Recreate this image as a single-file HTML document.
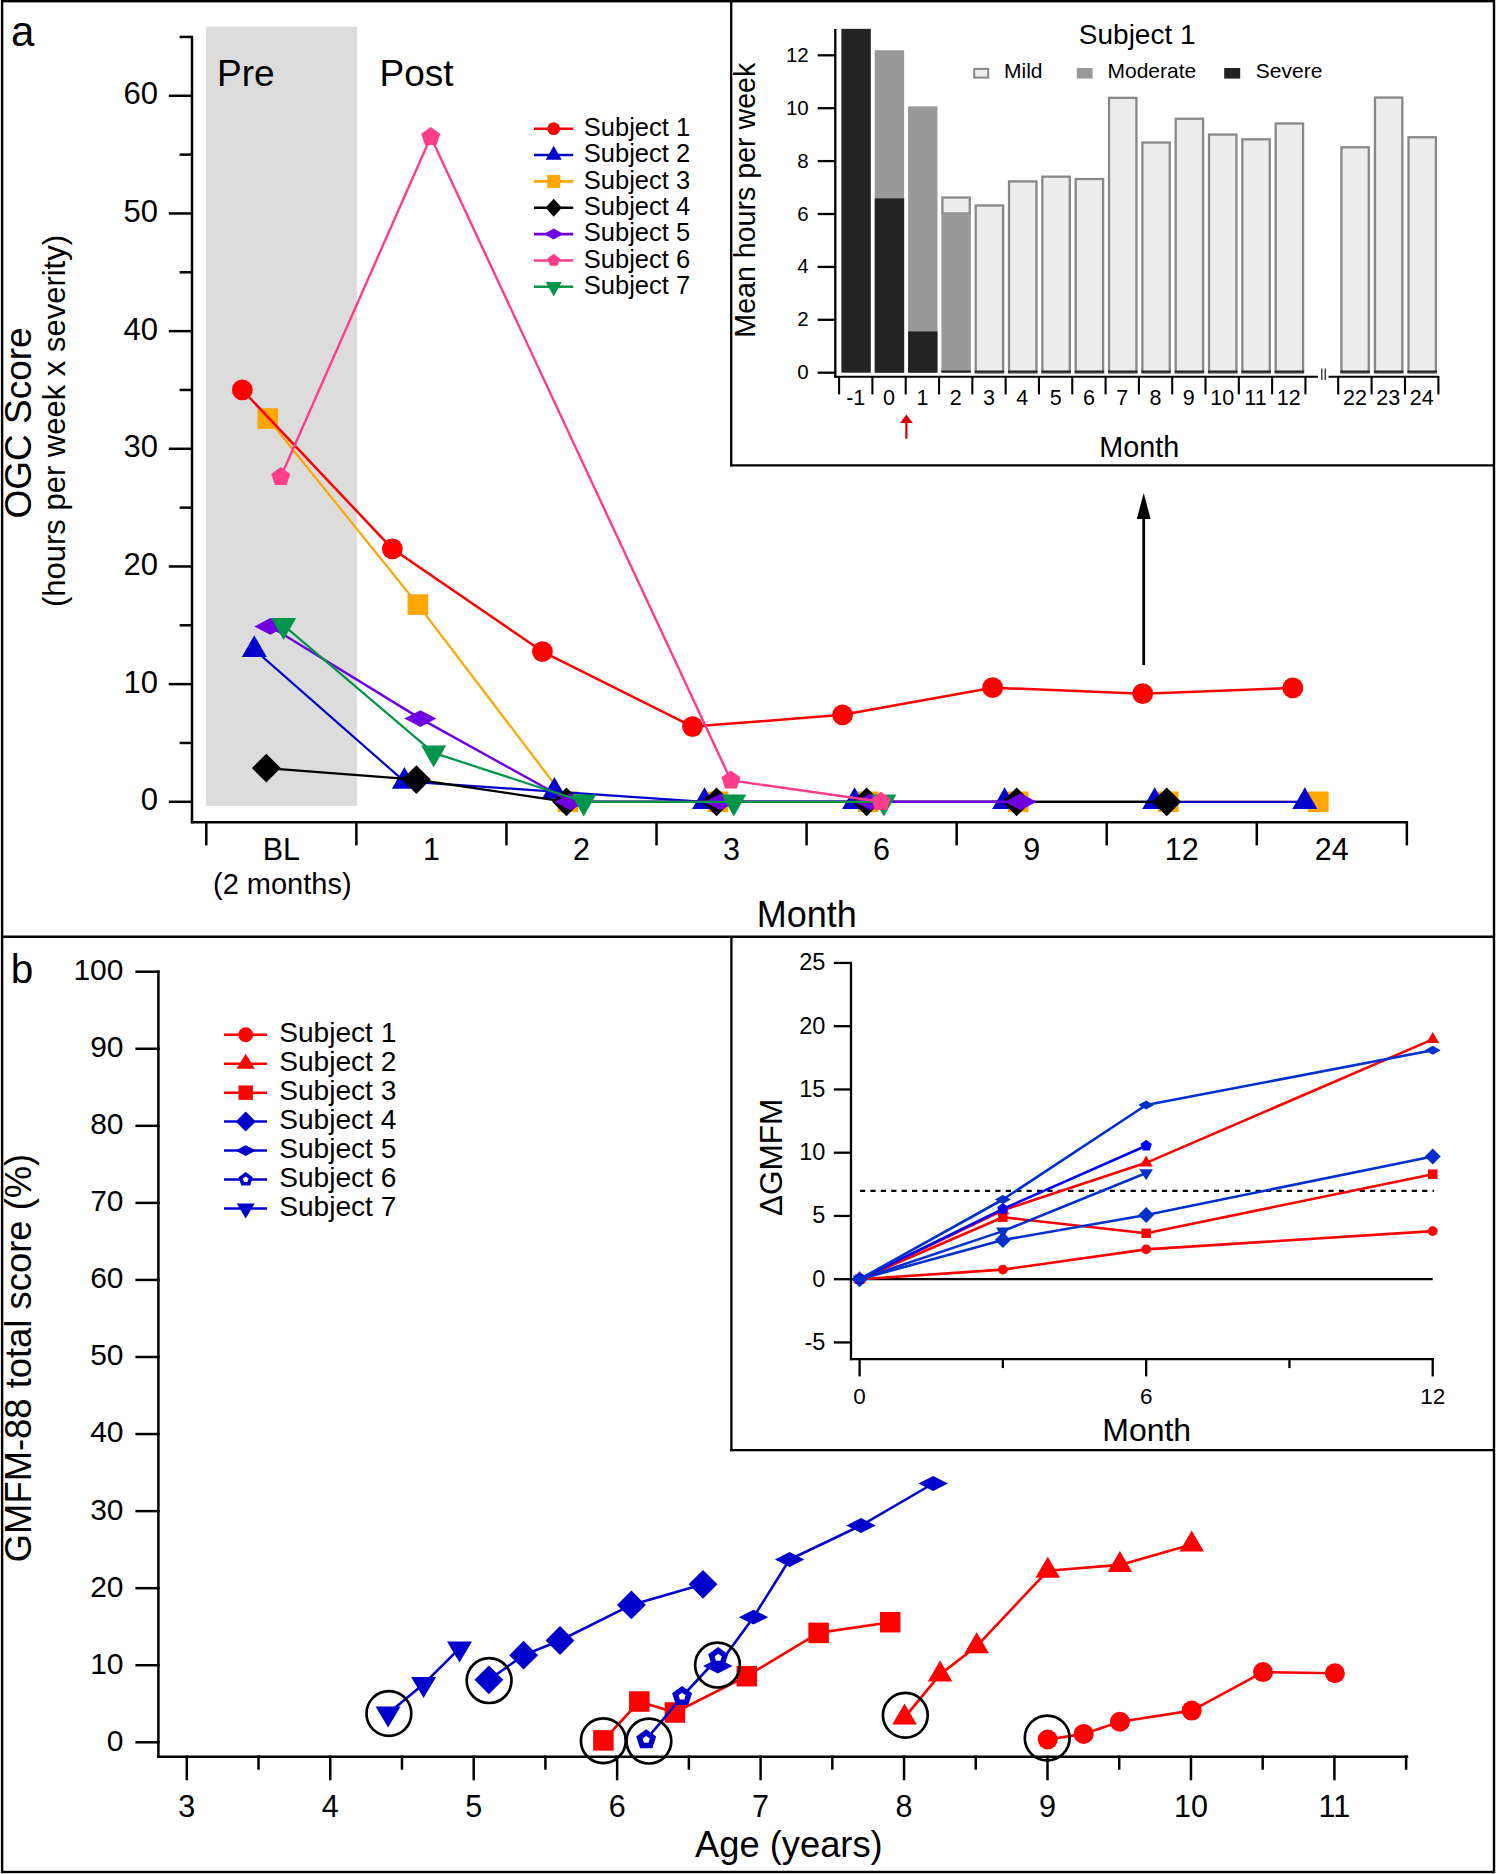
<!DOCTYPE html><html><head><meta charset="utf-8"><style>html,body{margin:0;padding:0;background:#fff;}svg{display:block;}</style></head><body>
<svg width="1496" height="1874" viewBox="0 0 1496 1874" font-family="Liberation Sans">
<rect x="0" y="0" width="1496" height="1874" fill="#fff" />
<rect x="206" y="26.7" width="151" height="779.2" fill="#dcdcdc" />
<line x1="192" y1="36.5" x2="192" y2="823.2" stroke="#000" stroke-width="2.5" />
<line x1="168.8" y1="801.8" x2="193" y2="801.8" stroke="#000" stroke-width="2.5" />
<text x="158" y="810.4" font-size="31" text-anchor="end" fill="#000" >0</text>
<line x1="168.8" y1="684.13" x2="193" y2="684.13" stroke="#000" stroke-width="2.5" />
<text x="158" y="692.73" font-size="31" text-anchor="end" fill="#000" >10</text>
<line x1="168.8" y1="566.46" x2="193" y2="566.46" stroke="#000" stroke-width="2.5" />
<text x="158" y="575.06" font-size="31" text-anchor="end" fill="#000" >20</text>
<line x1="168.8" y1="448.79" x2="193" y2="448.79" stroke="#000" stroke-width="2.5" />
<text x="158" y="457.39" font-size="31" text-anchor="end" fill="#000" >30</text>
<line x1="168.8" y1="331.12" x2="193" y2="331.12" stroke="#000" stroke-width="2.5" />
<text x="158" y="339.72" font-size="31" text-anchor="end" fill="#000" >40</text>
<line x1="168.8" y1="213.45" x2="193" y2="213.45" stroke="#000" stroke-width="2.5" />
<text x="158" y="222.05" font-size="31" text-anchor="end" fill="#000" >50</text>
<line x1="168.8" y1="95.78" x2="193" y2="95.78" stroke="#000" stroke-width="2.5" />
<text x="158" y="104.38" font-size="31" text-anchor="end" fill="#000" >60</text>
<line x1="179.6" y1="742.96" x2="193" y2="742.96" stroke="#000" stroke-width="2.5" />
<line x1="179.6" y1="625.29" x2="193" y2="625.29" stroke="#000" stroke-width="2.5" />
<line x1="179.6" y1="507.62" x2="193" y2="507.62" stroke="#000" stroke-width="2.5" />
<line x1="179.6" y1="389.95" x2="193" y2="389.95" stroke="#000" stroke-width="2.5" />
<line x1="179.6" y1="272.28" x2="193" y2="272.28" stroke="#000" stroke-width="2.5" />
<line x1="179.6" y1="154.62" x2="193" y2="154.62" stroke="#000" stroke-width="2.5" />
<line x1="179.6" y1="36.94" x2="193" y2="36.94" stroke="#000" stroke-width="2.5" />
<line x1="190.8" y1="822.2" x2="1407.5" y2="822.2" stroke="#000" stroke-width="2.5" />
<line x1="206.3" y1="821" x2="206.3" y2="845.4" stroke="#000" stroke-width="2.5" />
<line x1="356.37" y1="821" x2="356.37" y2="845.4" stroke="#000" stroke-width="2.5" />
<line x1="506.44" y1="821" x2="506.44" y2="845.4" stroke="#000" stroke-width="2.5" />
<line x1="656.51" y1="821" x2="656.51" y2="845.4" stroke="#000" stroke-width="2.5" />
<line x1="806.58" y1="821" x2="806.58" y2="845.4" stroke="#000" stroke-width="2.5" />
<line x1="956.65" y1="821" x2="956.65" y2="845.4" stroke="#000" stroke-width="2.5" />
<line x1="1106.72" y1="821" x2="1106.72" y2="845.4" stroke="#000" stroke-width="2.5" />
<line x1="1256.79" y1="821" x2="1256.79" y2="845.4" stroke="#000" stroke-width="2.5" />
<line x1="1406.86" y1="821" x2="1406.86" y2="845.4" stroke="#000" stroke-width="2.5" />
<text x="281.3" y="859.7" font-size="30.5" text-anchor="middle" fill="#000" >BL</text>
<text x="431.37" y="859.7" font-size="30.5" text-anchor="middle" fill="#000" >1</text>
<text x="581.44" y="859.7" font-size="30.5" text-anchor="middle" fill="#000" >2</text>
<text x="731.51" y="859.7" font-size="30.5" text-anchor="middle" fill="#000" >3</text>
<text x="881.58" y="859.7" font-size="30.5" text-anchor="middle" fill="#000" >6</text>
<text x="1031.65" y="859.7" font-size="30.5" text-anchor="middle" fill="#000" >9</text>
<text x="1181.72" y="859.7" font-size="30.5" text-anchor="middle" fill="#000" >12</text>
<text x="1331.79" y="859.7" font-size="30.5" text-anchor="middle" fill="#000" >24</text>
<text x="282.3" y="894" font-size="29" text-anchor="middle" fill="#000" >(2 months)</text>
<text x="806.8" y="926.7" font-size="36" text-anchor="middle" fill="#000" >Month</text>
<text x="11" y="45.5" font-size="42" text-anchor="start" fill="#000" >a</text>
<text x="217" y="86.2" font-size="37" text-anchor="start" fill="#000" >Pre</text>
<text x="379.5" y="86.2" font-size="37" text-anchor="start" fill="#000" >Post</text>
<text transform="translate(31.3,423) rotate(-90)" x="0" y="0" font-size="37" text-anchor="middle" fill="#000">OGC Score</text>
<text transform="translate(64.9,421) rotate(-90)" x="0" y="0" font-size="31" text-anchor="middle" fill="#000">(hours per week x severity)</text>
<polyline points="267.8,418.55 417.87,604.59 567.94,801.8 718.01,801.8 868.08,801.8 1018.15,801.8 1168.22,801.8 1318.29,801.8" fill="none" stroke="#ffa500" stroke-width="2.2" stroke-linejoin="round" />
<rect x="257.5" y="408.25" width="20.6" height="20.6" fill="#ffa500" />
<rect x="407.57" y="594.29" width="20.6" height="20.6" fill="#ffa500" />
<rect x="557.64" y="791.5" width="20.6" height="20.6" fill="#ffa500" />
<rect x="707.71" y="791.5" width="20.6" height="20.6" fill="#ffa500" />
<rect x="857.78" y="791.5" width="20.6" height="20.6" fill="#ffa500" />
<rect x="1007.85" y="791.5" width="20.6" height="20.6" fill="#ffa500" />
<rect x="1157.92" y="791.5" width="20.6" height="20.6" fill="#ffa500" />
<rect x="1307.99" y="791.5" width="20.6" height="20.6" fill="#ffa500" />
<polyline points="254.3,649.65 404.37,781.44 554.44,791.56 704.51,801.8 854.58,801.8 1004.65,801.8 1154.72,801.8 1304.79,801.8" fill="none" stroke="#0000cc" stroke-width="2.2" stroke-linejoin="round" />
<polygon points="254.3,635.19 266.8,656.89 241.8,656.89" fill="#0000cc" />
<polygon points="404.37,766.98 416.87,788.68 391.87,788.68" fill="#0000cc" />
<polygon points="554.44,777.1 566.94,798.8 541.94,798.8" fill="#0000cc" />
<polygon points="704.51,787.33 717.01,809.03 692.01,809.03" fill="#0000cc" />
<polygon points="854.58,787.33 867.08,809.03 842.08,809.03" fill="#0000cc" />
<polygon points="1004.65,787.33 1017.15,809.03 992.15,809.03" fill="#0000cc" />
<polygon points="1154.72,787.33 1167.22,809.03 1142.22,809.03" fill="#0000cc" />
<polygon points="1304.79,787.33 1317.29,809.03 1292.29,809.03" fill="#0000cc" />
<polyline points="266.3,768.03 416.37,779.56 566.44,801.8 716.51,801.8 866.58,801.8 1016.65,801.8 1166.72,801.8" fill="none" stroke="#000000" stroke-width="2.2" stroke-linejoin="round" />
<polygon points="266.3,753.63 280.7,768.03 266.3,782.43 251.9,768.03" fill="#000000" />
<polygon points="416.37,765.16 430.77,779.56 416.37,793.96 401.97,779.56" fill="#000000" />
<polygon points="566.44,787.4 580.84,801.8 566.44,816.2 552.04,801.8" fill="#000000" />
<polygon points="716.51,787.4 730.91,801.8 716.51,816.2 702.11,801.8" fill="#000000" />
<polygon points="866.58,787.4 880.98,801.8 866.58,816.2 852.18,801.8" fill="#000000" />
<polygon points="1016.65,787.4 1031.05,801.8 1016.65,816.2 1002.25,801.8" fill="#000000" />
<polygon points="1166.72,787.4 1181.12,801.8 1166.72,816.2 1152.32,801.8" fill="#000000" />
<polyline points="270.3,626.47 420.37,718.61 570.44,801.8 720.51,801.8 870.58,801.8 1020.65,801.8" fill="none" stroke="#7000e0" stroke-width="2.4" stroke-linejoin="round" />
<polygon points="270.3,618.07 286.3,626.47 270.3,634.87 254.3,626.47" fill="#7000e0" />
<polygon points="420.37,710.21 436.37,718.61 420.37,727.01 404.37,718.61" fill="#7000e0" />
<polygon points="570.44,793.4 586.44,801.8 570.44,810.2 554.44,801.8" fill="#7000e0" />
<polygon points="720.51,793.4 736.51,801.8 720.51,810.2 704.51,801.8" fill="#7000e0" />
<polygon points="870.58,793.4 886.58,801.8 870.58,810.2 854.58,801.8" fill="#7000e0" />
<polygon points="1020.65,793.4 1036.65,801.8 1020.65,810.2 1004.65,801.8" fill="#7000e0" />
<polyline points="283.6,625.29 433.67,752.85 583.74,801.8 733.81,801.8 883.88,801.8" fill="none" stroke="#00954a" stroke-width="2.2" stroke-linejoin="round" />
<polygon points="283.6,639.96 296.1,617.96 271.1,617.96" fill="#00954a" />
<polygon points="433.67,767.52 446.17,745.52 421.17,745.52" fill="#00954a" />
<polygon points="583.74,816.47 596.24,794.47 571.24,794.47" fill="#00954a" />
<polygon points="733.81,816.47 746.31,794.47 721.31,794.47" fill="#00954a" />
<polygon points="883.88,816.47 896.38,794.47 871.38,794.47" fill="#00954a" />
<polyline points="242.3,389.95 392.37,548.81 542.44,651.54 692.51,726.61 842.58,714.84 992.65,687.66 1142.72,693.66 1292.79,687.9" fill="none" stroke="#ff0000" stroke-width="2.5" stroke-linejoin="round" />
<circle cx="242.3" cy="389.95" r="10.4" fill="#ff0000"/>
<circle cx="392.37" cy="548.81" r="10.4" fill="#ff0000"/>
<circle cx="542.44" cy="651.54" r="10.4" fill="#ff0000"/>
<circle cx="692.51" cy="726.61" r="10.4" fill="#ff0000"/>
<circle cx="842.58" cy="714.84" r="10.4" fill="#ff0000"/>
<circle cx="992.65" cy="687.66" r="10.4" fill="#ff0000"/>
<circle cx="1142.72" cy="693.66" r="10.4" fill="#ff0000"/>
<circle cx="1292.79" cy="687.9" r="10.4" fill="#ff0000"/>
<polyline points="280.7,477.03 430.77,136.96 730.91,780.38 880.98,801.8" fill="none" stroke="#ff3d8b" stroke-width="2.4" stroke-linejoin="round" />
<polygon points="280.7,467.03 290.21,473.94 286.58,485.12 274.82,485.12 271.19,473.94" fill="#ff3d8b" />
<polygon points="430.77,126.96 440.28,133.87 436.65,145.05 424.89,145.05 421.26,133.87" fill="#ff3d8b" />
<polygon points="730.91,770.38 740.42,777.29 736.79,788.47 725.03,788.47 721.4,777.29" fill="#ff3d8b" />
<polygon points="880.98,791.8 890.49,798.71 886.86,809.89 875.1,809.89 871.47,798.71" fill="#ff3d8b" />
<line x1="534" y1="128.7" x2="573.2" y2="128.7" stroke="#ff0000" stroke-width="2.6" />
<circle cx="553.7" cy="128.7" r="6.4" fill="#ff0000"/>
<text x="583.8" y="135.8" font-size="25.5" text-anchor="start" fill="#000" >Subject 1</text>
<line x1="534" y1="155.05" x2="573.2" y2="155.05" stroke="#0000cc" stroke-width="2.6" />
<polygon points="553.7,145.72 561.7,159.72 545.7,159.72" fill="#0000cc" />
<text x="583.8" y="162.15" font-size="25.5" text-anchor="start" fill="#000" >Subject 2</text>
<line x1="534" y1="181.4" x2="573.2" y2="181.4" stroke="#ffa500" stroke-width="2.6" />
<rect x="547.2" y="174.9" width="13" height="13" fill="#ffa500" />
<text x="583.8" y="188.5" font-size="25.5" text-anchor="start" fill="#000" >Subject 3</text>
<line x1="534" y1="207.75" x2="573.2" y2="207.75" stroke="#000000" stroke-width="2.6" />
<polygon points="553.7,198.75 561.9,207.75 553.7,216.75 545.5,207.75" fill="#000000" />
<text x="583.8" y="214.85" font-size="25.5" text-anchor="start" fill="#000" >Subject 4</text>
<line x1="534" y1="234.1" x2="573.2" y2="234.1" stroke="#7000e0" stroke-width="2.6" />
<polygon points="553.7,228.6 563.4,234.1 553.7,239.6 544,234.1" fill="#7000e0" />
<text x="583.8" y="241.2" font-size="25.5" text-anchor="start" fill="#000" >Subject 5</text>
<line x1="534" y1="260.45" x2="573.2" y2="260.45" stroke="#ff3d8b" stroke-width="2.6" />
<polygon points="553.7,253.85 559.98,258.41 557.58,265.79 549.82,265.79 547.42,258.41" fill="#ff3d8b" />
<text x="583.8" y="267.55" font-size="25.5" text-anchor="start" fill="#000" >Subject 6</text>
<line x1="534" y1="286.8" x2="573.2" y2="286.8" stroke="#00954a" stroke-width="2.6" />
<polygon points="553.7,296.4 561.7,282 545.7,282" fill="#00954a" />
<text x="583.8" y="293.9" font-size="25.5" text-anchor="start" fill="#000" >Subject 7</text>
<line x1="1143.7" y1="518" x2="1143.7" y2="665.1" stroke="#000" stroke-width="2.8" />
<polygon points="1143.7,493 1150.6,519 1136.8,519" fill="#000" />
<rect x="731.2" y="1" width="764" height="464.3" fill="#fff" />
<rect x="841.4" y="28.85" width="29.4" height="343.85" fill="#232323" />
<rect x="874.73" y="50.27" width="29.4" height="322.43" fill="#999999" />
<rect x="874.73" y="198.39" width="29.4" height="174.31" fill="#232323" />
<rect x="908.06" y="106.35" width="29.4" height="266.35" fill="#999999" />
<rect x="908.06" y="331.44" width="29.4" height="41.26" fill="#232323" />
<rect x="942.39" y="197.54" width="27.4" height="15.93" fill="#ededed" stroke="#888888" stroke-width="2.3"/>
<rect x="941.39" y="213.47" width="29.4" height="159.23" fill="#999999" />
<rect x="941.39" y="370.5" width="29.4" height="2.2" fill="#232323" />
<rect x="975.72" y="205.48" width="27.4" height="167.22" fill="#ededed" stroke="#888888" stroke-width="2.3"/>
<rect x="974.72" y="370.5" width="29.4" height="2.2" fill="#232323" />
<rect x="1009.05" y="181.41" width="27.4" height="191.29" fill="#ededed" stroke="#888888" stroke-width="2.3"/>
<rect x="1008.05" y="370.5" width="29.4" height="2.2" fill="#232323" />
<rect x="1042.38" y="176.65" width="27.4" height="196.05" fill="#ededed" stroke="#888888" stroke-width="2.3"/>
<rect x="1041.38" y="370.5" width="29.4" height="2.2" fill="#232323" />
<rect x="1075.71" y="179.03" width="27.4" height="193.67" fill="#ededed" stroke="#888888" stroke-width="2.3"/>
<rect x="1074.71" y="370.5" width="29.4" height="2.2" fill="#232323" />
<rect x="1109.04" y="97.83" width="27.4" height="274.87" fill="#ededed" stroke="#888888" stroke-width="2.3"/>
<rect x="1108.04" y="370.5" width="29.4" height="2.2" fill="#232323" />
<rect x="1142.37" y="142.53" width="27.4" height="230.17" fill="#ededed" stroke="#888888" stroke-width="2.3"/>
<rect x="1141.37" y="370.5" width="29.4" height="2.2" fill="#232323" />
<rect x="1175.7" y="118.72" width="27.4" height="253.98" fill="#ededed" stroke="#888888" stroke-width="2.3"/>
<rect x="1174.7" y="370.5" width="29.4" height="2.2" fill="#232323" />
<rect x="1209.03" y="134.59" width="27.4" height="238.11" fill="#ededed" stroke="#888888" stroke-width="2.3"/>
<rect x="1208.03" y="370.5" width="29.4" height="2.2" fill="#232323" />
<rect x="1242.36" y="139.35" width="27.4" height="233.35" fill="#ededed" stroke="#888888" stroke-width="2.3"/>
<rect x="1241.36" y="370.5" width="29.4" height="2.2" fill="#232323" />
<rect x="1275.69" y="123.48" width="27.4" height="249.22" fill="#ededed" stroke="#888888" stroke-width="2.3"/>
<rect x="1274.69" y="370.5" width="29.4" height="2.2" fill="#232323" />
<rect x="1341.4" y="147.29" width="27.4" height="225.41" fill="#ededed" stroke="#888888" stroke-width="2.3"/>
<rect x="1340.4" y="370.5" width="29.4" height="2.2" fill="#232323" />
<rect x="1374.95" y="97.56" width="27.4" height="275.14" fill="#ededed" stroke="#888888" stroke-width="2.3"/>
<rect x="1373.95" y="370.5" width="29.4" height="2.2" fill="#232323" />
<rect x="1408.5" y="137.24" width="27.4" height="235.46" fill="#ededed" stroke="#888888" stroke-width="2.3"/>
<rect x="1407.5" y="370.5" width="29.4" height="2.2" fill="#232323" />
<line x1="835.3" y1="29" x2="835.3" y2="377.6" stroke="#000" stroke-width="2.3" />
<line x1="817.7" y1="372.7" x2="836" y2="372.7" stroke="#000" stroke-width="2.3" />
<text x="808.7" y="379.2" font-size="20.5" text-anchor="end" fill="#000" >0</text>
<line x1="817.7" y1="319.8" x2="836" y2="319.8" stroke="#000" stroke-width="2.3" />
<text x="808.7" y="326.3" font-size="20.5" text-anchor="end" fill="#000" >2</text>
<line x1="817.7" y1="266.9" x2="836" y2="266.9" stroke="#000" stroke-width="2.3" />
<text x="808.7" y="273.4" font-size="20.5" text-anchor="end" fill="#000" >4</text>
<line x1="817.7" y1="214" x2="836" y2="214" stroke="#000" stroke-width="2.3" />
<text x="808.7" y="220.5" font-size="20.5" text-anchor="end" fill="#000" >6</text>
<line x1="817.7" y1="161.1" x2="836" y2="161.1" stroke="#000" stroke-width="2.3" />
<text x="808.7" y="167.6" font-size="20.5" text-anchor="end" fill="#000" >8</text>
<line x1="817.7" y1="108.2" x2="836" y2="108.2" stroke="#000" stroke-width="2.3" />
<text x="808.7" y="114.7" font-size="20.5" text-anchor="end" fill="#000" >10</text>
<line x1="817.7" y1="55.3" x2="836" y2="55.3" stroke="#000" stroke-width="2.3" />
<text x="808.7" y="61.8" font-size="20.5" text-anchor="end" fill="#000" >12</text>
<line x1="834.2" y1="376.7" x2="1318" y2="376.7" stroke="#000" stroke-width="2.1" />
<line x1="1328.6" y1="376.7" x2="1438.8" y2="376.7" stroke="#000" stroke-width="2.1" />
<line x1="1321.8" y1="368.5" x2="1321.8" y2="380" stroke="#000" stroke-width="1.1" />
<line x1="1325.2" y1="368.5" x2="1325.2" y2="380" stroke="#000" stroke-width="1.1" />
<line x1="839.1" y1="376" x2="839.1" y2="394.4" stroke="#000" stroke-width="2.1" />
<line x1="872.41" y1="376" x2="872.41" y2="394.4" stroke="#000" stroke-width="2.1" />
<line x1="905.72" y1="376" x2="905.72" y2="394.4" stroke="#000" stroke-width="2.1" />
<line x1="939.03" y1="376" x2="939.03" y2="394.4" stroke="#000" stroke-width="2.1" />
<line x1="972.34" y1="376" x2="972.34" y2="394.4" stroke="#000" stroke-width="2.1" />
<line x1="1005.65" y1="376" x2="1005.65" y2="394.4" stroke="#000" stroke-width="2.1" />
<line x1="1038.96" y1="376" x2="1038.96" y2="394.4" stroke="#000" stroke-width="2.1" />
<line x1="1072.27" y1="376" x2="1072.27" y2="394.4" stroke="#000" stroke-width="2.1" />
<line x1="1105.58" y1="376" x2="1105.58" y2="394.4" stroke="#000" stroke-width="2.1" />
<line x1="1138.89" y1="376" x2="1138.89" y2="394.4" stroke="#000" stroke-width="2.1" />
<line x1="1172.2" y1="376" x2="1172.2" y2="394.4" stroke="#000" stroke-width="2.1" />
<line x1="1205.51" y1="376" x2="1205.51" y2="394.4" stroke="#000" stroke-width="2.1" />
<line x1="1238.82" y1="376" x2="1238.82" y2="394.4" stroke="#000" stroke-width="2.1" />
<line x1="1272.13" y1="376" x2="1272.13" y2="394.4" stroke="#000" stroke-width="2.1" />
<line x1="1305.44" y1="376" x2="1305.44" y2="394.4" stroke="#000" stroke-width="2.1" />
<line x1="1338.2" y1="376" x2="1338.2" y2="394.4" stroke="#000" stroke-width="2.1" />
<line x1="1371.6" y1="376" x2="1371.6" y2="394.4" stroke="#000" stroke-width="2.1" />
<line x1="1405" y1="376" x2="1405" y2="394.4" stroke="#000" stroke-width="2.1" />
<line x1="1438.4" y1="376" x2="1438.4" y2="394.4" stroke="#000" stroke-width="2.1" />
<text x="855.75" y="405.2" font-size="21.5" text-anchor="middle" fill="#000" >-1</text>
<text x="889.06" y="405.2" font-size="21.5" text-anchor="middle" fill="#000" >0</text>
<text x="922.37" y="405.2" font-size="21.5" text-anchor="middle" fill="#000" >1</text>
<text x="955.68" y="405.2" font-size="21.5" text-anchor="middle" fill="#000" >2</text>
<text x="988.99" y="405.2" font-size="21.5" text-anchor="middle" fill="#000" >3</text>
<text x="1022.3" y="405.2" font-size="21.5" text-anchor="middle" fill="#000" >4</text>
<text x="1055.61" y="405.2" font-size="21.5" text-anchor="middle" fill="#000" >5</text>
<text x="1088.92" y="405.2" font-size="21.5" text-anchor="middle" fill="#000" >6</text>
<text x="1122.23" y="405.2" font-size="21.5" text-anchor="middle" fill="#000" >7</text>
<text x="1155.54" y="405.2" font-size="21.5" text-anchor="middle" fill="#000" >8</text>
<text x="1188.85" y="405.2" font-size="21.5" text-anchor="middle" fill="#000" >9</text>
<text x="1222.16" y="405.2" font-size="21.5" text-anchor="middle" fill="#000" >10</text>
<text x="1255.47" y="405.2" font-size="21.5" text-anchor="middle" fill="#000" >11</text>
<text x="1288.78" y="405.2" font-size="21.5" text-anchor="middle" fill="#000" >12</text>
<text x="1354.9" y="405.2" font-size="21.5" text-anchor="middle" fill="#000" >22</text>
<text x="1388.3" y="405.2" font-size="21.5" text-anchor="middle" fill="#000" >23</text>
<text x="1421.7" y="405.2" font-size="21.5" text-anchor="middle" fill="#000" >24</text>
<text x="1139.2" y="456.5" font-size="28.8" text-anchor="middle" fill="#000" >Month</text>
<text transform="translate(754.9,200.2) rotate(-90)" x="0" y="0" font-size="28.6" text-anchor="middle" fill="#000">Mean hours per week</text>
<text x="1137.2" y="43.5" font-size="28" text-anchor="middle" fill="#000" >Subject 1</text>
<rect x="974.2" y="68.9" width="14" height="8.7" fill="#ededed" stroke="#888888" stroke-width="2"/>
<text x="1004" y="78" font-size="21" text-anchor="start" fill="#000" >Mild</text>
<rect x="1076.8" y="68" width="15.8" height="10.6" fill="#999999" />
<text x="1107.5" y="78" font-size="21" text-anchor="start" fill="#000" >Moderate</text>
<rect x="1224.2" y="68" width="16" height="10.6" fill="#232323" />
<text x="1255.8" y="78" font-size="21" text-anchor="start" fill="#000" >Severe</text>
<line x1="906.4" y1="421" x2="906.4" y2="438.8" stroke="#d40000" stroke-width="2.2" />
<polygon points="906.4,414.5 912.8,423 900,423" fill="#d40000" />
<line x1="731.2" y1="0" x2="731.2" y2="466.3" stroke="#000" stroke-width="2.3" />
<line x1="730" y1="465.3" x2="1494" y2="465.3" stroke="#000" stroke-width="2.3" />
<line x1="158.4" y1="970.5" x2="158.4" y2="1758" stroke="#000" stroke-width="2.5" />
<line x1="135.4" y1="1742.3" x2="159.6" y2="1742.3" stroke="#000" stroke-width="2.5" />
<text x="123.5" y="1750.7" font-size="30" text-anchor="end" fill="#000" >0</text>
<line x1="135.4" y1="1665.24" x2="159.6" y2="1665.24" stroke="#000" stroke-width="2.5" />
<text x="123.5" y="1673.64" font-size="30" text-anchor="end" fill="#000" >10</text>
<line x1="135.4" y1="1588.18" x2="159.6" y2="1588.18" stroke="#000" stroke-width="2.5" />
<text x="123.5" y="1596.58" font-size="30" text-anchor="end" fill="#000" >20</text>
<line x1="135.4" y1="1511.12" x2="159.6" y2="1511.12" stroke="#000" stroke-width="2.5" />
<text x="123.5" y="1519.52" font-size="30" text-anchor="end" fill="#000" >30</text>
<line x1="135.4" y1="1434.06" x2="159.6" y2="1434.06" stroke="#000" stroke-width="2.5" />
<text x="123.5" y="1442.46" font-size="30" text-anchor="end" fill="#000" >40</text>
<line x1="135.4" y1="1357" x2="159.6" y2="1357" stroke="#000" stroke-width="2.5" />
<text x="123.5" y="1365.4" font-size="30" text-anchor="end" fill="#000" >50</text>
<line x1="135.4" y1="1279.94" x2="159.6" y2="1279.94" stroke="#000" stroke-width="2.5" />
<text x="123.5" y="1288.34" font-size="30" text-anchor="end" fill="#000" >60</text>
<line x1="135.4" y1="1202.88" x2="159.6" y2="1202.88" stroke="#000" stroke-width="2.5" />
<text x="123.5" y="1211.28" font-size="30" text-anchor="end" fill="#000" >70</text>
<line x1="135.4" y1="1125.82" x2="159.6" y2="1125.82" stroke="#000" stroke-width="2.5" />
<text x="123.5" y="1134.22" font-size="30" text-anchor="end" fill="#000" >80</text>
<line x1="135.4" y1="1048.76" x2="159.6" y2="1048.76" stroke="#000" stroke-width="2.5" />
<text x="123.5" y="1057.16" font-size="30" text-anchor="end" fill="#000" >90</text>
<line x1="135.4" y1="971.7" x2="159.6" y2="971.7" stroke="#000" stroke-width="2.5" />
<text x="123.5" y="980.1" font-size="30" text-anchor="end" fill="#000" >100</text>
<line x1="157.2" y1="1756.7" x2="1408.2" y2="1756.7" stroke="#000" stroke-width="2.5" />
<line x1="186.8" y1="1755.5" x2="186.8" y2="1780.3" stroke="#000" stroke-width="2.5" />
<text x="186.8" y="1816.8" font-size="30.5" text-anchor="middle" fill="#000" >3</text>
<line x1="330.25" y1="1755.5" x2="330.25" y2="1780.3" stroke="#000" stroke-width="2.5" />
<text x="330.25" y="1816.8" font-size="30.5" text-anchor="middle" fill="#000" >4</text>
<line x1="473.7" y1="1755.5" x2="473.7" y2="1780.3" stroke="#000" stroke-width="2.5" />
<text x="473.7" y="1816.8" font-size="30.5" text-anchor="middle" fill="#000" >5</text>
<line x1="617.15" y1="1755.5" x2="617.15" y2="1780.3" stroke="#000" stroke-width="2.5" />
<text x="617.15" y="1816.8" font-size="30.5" text-anchor="middle" fill="#000" >6</text>
<line x1="760.6" y1="1755.5" x2="760.6" y2="1780.3" stroke="#000" stroke-width="2.5" />
<text x="760.6" y="1816.8" font-size="30.5" text-anchor="middle" fill="#000" >7</text>
<line x1="904.05" y1="1755.5" x2="904.05" y2="1780.3" stroke="#000" stroke-width="2.5" />
<text x="904.05" y="1816.8" font-size="30.5" text-anchor="middle" fill="#000" >8</text>
<line x1="1047.5" y1="1755.5" x2="1047.5" y2="1780.3" stroke="#000" stroke-width="2.5" />
<text x="1047.5" y="1816.8" font-size="30.5" text-anchor="middle" fill="#000" >9</text>
<line x1="1190.95" y1="1755.5" x2="1190.95" y2="1780.3" stroke="#000" stroke-width="2.5" />
<text x="1190.95" y="1816.8" font-size="30.5" text-anchor="middle" fill="#000" >10</text>
<line x1="1334.4" y1="1755.5" x2="1334.4" y2="1780.3" stroke="#000" stroke-width="2.5" />
<text x="1334.4" y="1816.8" font-size="30.5" text-anchor="middle" fill="#000" >11</text>
<line x1="258.52" y1="1755.5" x2="258.52" y2="1769.7" stroke="#000" stroke-width="2.5" />
<line x1="401.98" y1="1755.5" x2="401.98" y2="1769.7" stroke="#000" stroke-width="2.5" />
<line x1="545.42" y1="1755.5" x2="545.42" y2="1769.7" stroke="#000" stroke-width="2.5" />
<line x1="688.88" y1="1755.5" x2="688.88" y2="1769.7" stroke="#000" stroke-width="2.5" />
<line x1="832.33" y1="1755.5" x2="832.33" y2="1769.7" stroke="#000" stroke-width="2.5" />
<line x1="975.77" y1="1755.5" x2="975.77" y2="1769.7" stroke="#000" stroke-width="2.5" />
<line x1="1119.22" y1="1755.5" x2="1119.22" y2="1769.7" stroke="#000" stroke-width="2.5" />
<line x1="1262.67" y1="1755.5" x2="1262.67" y2="1769.7" stroke="#000" stroke-width="2.5" />
<line x1="1406.12" y1="1755.5" x2="1406.12" y2="1769.7" stroke="#000" stroke-width="2.5" />
<text x="788.9" y="1856.8" font-size="36.3" text-anchor="middle" fill="#000" >Age (years)</text>
<text transform="translate(31,1358) rotate(-90)" x="0" y="0" font-size="36.4" text-anchor="middle" fill="#000">GMFM-88 total score (%)</text>
<text x="10.8" y="983.1" font-size="40.5" text-anchor="start" fill="#000" >b</text>
<polyline points="1047.7,1739.5 1083.7,1733.9 1119.9,1721.8 1191.7,1710.6 1263,1672.1 1334.9,1673.2" fill="none" stroke="#ff0000" stroke-width="2.6" stroke-linejoin="round" />
<circle cx="1047.7" cy="1739.5" r="10" fill="#ff0000"/>
<circle cx="1083.7" cy="1733.9" r="10" fill="#ff0000"/>
<circle cx="1119.9" cy="1721.8" r="10" fill="#ff0000"/>
<circle cx="1191.7" cy="1710.6" r="10" fill="#ff0000"/>
<circle cx="1263" cy="1672.1" r="10" fill="#ff0000"/>
<circle cx="1334.9" cy="1673.2" r="10" fill="#ff0000"/>
<polyline points="904.5,1717.6 940.1,1674.4 976.7,1646.2 1047.7,1570.8 1119.9,1564.9 1191.7,1544.4" fill="none" stroke="#ff0000" stroke-width="2.6" stroke-linejoin="round" />
<polygon points="904.5,1703.6 916.8,1724.6 892.2,1724.6" fill="#ff0000" />
<polygon points="940.1,1660.4 952.4,1681.4 927.8,1681.4" fill="#ff0000" />
<polygon points="976.7,1632.2 989,1653.2 964.4,1653.2" fill="#ff0000" />
<polygon points="1047.7,1556.8 1060,1577.8 1035.4,1577.8" fill="#ff0000" />
<polygon points="1119.9,1550.9 1132.2,1571.9 1107.6,1571.9" fill="#ff0000" />
<polygon points="1191.7,1530.4 1204,1551.4 1179.4,1551.4" fill="#ff0000" />
<polyline points="603.4,1740.4 639.3,1701.5 674.9,1712.5 746.8,1676.2 818.6,1632.9 890.2,1622.2" fill="none" stroke="#ff0000" stroke-width="2.6" stroke-linejoin="round" />
<rect x="593.15" y="1730.15" width="20.5" height="20.5" fill="#ff0000" />
<rect x="629.05" y="1691.25" width="20.5" height="20.5" fill="#ff0000" />
<rect x="664.65" y="1702.25" width="20.5" height="20.5" fill="#ff0000" />
<rect x="736.55" y="1665.95" width="20.5" height="20.5" fill="#ff0000" />
<rect x="808.35" y="1622.65" width="20.5" height="20.5" fill="#ff0000" />
<rect x="879.95" y="1611.95" width="20.5" height="20.5" fill="#ff0000" />
<polyline points="488.9,1679.8 523.6,1655.2 560,1640.5 631.4,1604.9 703,1584.3" fill="none" stroke="#0000cc" stroke-width="2.6" stroke-linejoin="round" />
<polygon points="488.9,1665.4 503.3,1679.8 488.9,1694.2 474.5,1679.8" fill="#0000cc" />
<polygon points="523.6,1640.8 538,1655.2 523.6,1669.6 509.2,1655.2" fill="#0000cc" />
<polygon points="560,1626.1 574.4,1640.5 560,1654.9 545.6,1640.5" fill="#0000cc" />
<polygon points="631.4,1590.5 645.8,1604.9 631.4,1619.3 617,1604.9" fill="#0000cc" />
<polygon points="703,1569.9 717.4,1584.3 703,1598.7 688.6,1584.3" fill="#0000cc" />
<polyline points="717.8,1666 753.5,1617.2 789.6,1559.5 861,1525.5 933.2,1483.5" fill="none" stroke="#0000cc" stroke-width="2.6" stroke-linejoin="round" />
<polygon points="717.8,1658.6 732.5,1666 717.8,1673.4 703.1,1666" fill="#0000cc" />
<polygon points="753.5,1609.8 768.2,1617.2 753.5,1624.6 738.8,1617.2" fill="#0000cc" />
<polygon points="789.6,1552.1 804.3,1559.5 789.6,1566.9 774.9,1559.5" fill="#0000cc" />
<polygon points="861,1518.1 875.7,1525.5 861,1532.9 846.3,1525.5" fill="#0000cc" />
<polygon points="933.2,1476.1 947.9,1483.5 933.2,1490.9 918.5,1483.5" fill="#0000cc" />
<polyline points="646.2,1739.7 682.1,1696.5 718.2,1657.6" fill="none" stroke="#0000cc" stroke-width="2.6" stroke-linejoin="round" />
<polygon points="646.2,1729.2 656.19,1736.46 652.37,1748.19 640.03,1748.19 636.21,1736.46" fill="#0000cc" />
<polygon points="646.2,1735.9 649.81,1738.53 648.43,1742.77 643.97,1742.77 642.59,1738.53" fill="#fff" />
<polygon points="682.1,1686 692.09,1693.26 688.27,1704.99 675.93,1704.99 672.11,1693.26" fill="#0000cc" />
<polygon points="682.1,1692.7 685.71,1695.33 684.33,1699.57 679.87,1699.57 678.49,1695.33" fill="#fff" />
<polygon points="718.2,1647.1 728.19,1654.36 724.37,1666.09 712.03,1666.09 708.21,1654.36" fill="#0000cc" />
<polygon points="718.2,1653.8 721.81,1656.43 720.43,1660.67 715.97,1660.67 714.59,1656.43" fill="#fff" />
<polyline points="388.1,1713.5 423.6,1684.1 459.5,1648.4" fill="none" stroke="#0000cc" stroke-width="2.6" stroke-linejoin="round" />
<polygon points="388.1,1727.5 400.6,1706.5 375.6,1706.5" fill="#0000cc" />
<polygon points="423.6,1698.1 436.1,1677.1 411.1,1677.1" fill="#0000cc" />
<polygon points="459.5,1662.4 472,1641.4 447,1641.4" fill="#0000cc" />
<circle cx="388.9" cy="1713.5" r="22.4" fill="none" stroke="#000" stroke-width="2.7"/>
<circle cx="489.1" cy="1680.6" r="22.4" fill="none" stroke="#000" stroke-width="2.7"/>
<circle cx="603.3" cy="1740.7" r="22.4" fill="none" stroke="#000" stroke-width="2.7"/>
<circle cx="648.9" cy="1741.1" r="22.4" fill="none" stroke="#000" stroke-width="2.7"/>
<circle cx="717.5" cy="1665.1" r="22.4" fill="none" stroke="#000" stroke-width="2.7"/>
<circle cx="905.3" cy="1715.3" r="22.4" fill="none" stroke="#000" stroke-width="2.7"/>
<circle cx="1047.2" cy="1738" r="22.4" fill="none" stroke="#000" stroke-width="2.7"/>
<line x1="224" y1="1034.7" x2="267" y2="1034.7" stroke="#ff0000" stroke-width="2.5" />
<circle cx="245.7" cy="1034.7" r="7.4" fill="#ff0000"/>
<text x="279.2" y="1042.1" font-size="28.1" text-anchor="start" fill="#000" >Subject 1</text>
<line x1="224" y1="1063.67" x2="267" y2="1063.67" stroke="#ff0000" stroke-width="2.5" />
<polygon points="245.7,1053.67 254.9,1068.67 236.5,1068.67" fill="#ff0000" />
<text x="279.2" y="1071.07" font-size="28.1" text-anchor="start" fill="#000" >Subject 2</text>
<line x1="224" y1="1092.64" x2="267" y2="1092.64" stroke="#ff0000" stroke-width="2.5" />
<rect x="238.5" y="1085.44" width="14.4" height="14.4" fill="#ff0000" />
<text x="279.2" y="1100.04" font-size="28.1" text-anchor="start" fill="#000" >Subject 3</text>
<line x1="224" y1="1121.61" x2="267" y2="1121.61" stroke="#0000cc" stroke-width="2.5" />
<polygon points="245.7,1111.61 255.7,1121.61 245.7,1131.61 235.7,1121.61" fill="#0000cc" />
<text x="279.2" y="1129.01" font-size="28.1" text-anchor="start" fill="#000" >Subject 4</text>
<line x1="224" y1="1150.58" x2="267" y2="1150.58" stroke="#0000cc" stroke-width="2.5" />
<polygon points="245.7,1145.18 256,1150.58 245.7,1155.98 235.4,1150.58" fill="#0000cc" />
<text x="279.2" y="1157.98" font-size="28.1" text-anchor="start" fill="#000" >Subject 5</text>
<line x1="224" y1="1179.55" x2="267" y2="1179.55" stroke="#0000cc" stroke-width="2.5" />
<polygon points="245.7,1172.05 252.83,1177.23 250.11,1185.62 241.29,1185.62 238.57,1177.23" fill="#0000cc" />
<polygon points="245.7,1176.55 248.55,1178.62 247.46,1181.98 243.94,1181.98 242.85,1178.62" fill="#fff" />
<text x="279.2" y="1186.95" font-size="28.1" text-anchor="start" fill="#000" >Subject 6</text>
<line x1="224" y1="1208.52" x2="267" y2="1208.52" stroke="#0000cc" stroke-width="2.5" />
<polygon points="245.7,1218.52 254.7,1203.52 236.7,1203.52" fill="#0000cc" />
<text x="279.2" y="1215.92" font-size="28.1" text-anchor="start" fill="#000" >Subject 7</text>
<rect x="731.4" y="937.6" width="763" height="512" fill="#fff" />
<line x1="851" y1="962" x2="851" y2="1360.3" stroke="#000" stroke-width="2.3" />
<line x1="833.8" y1="1342.45" x2="852" y2="1342.45" stroke="#000" stroke-width="2.3" />
<text x="825.3" y="1349.85" font-size="23.5" text-anchor="end" fill="#000" >-5</text>
<line x1="833.8" y1="1279.2" x2="852" y2="1279.2" stroke="#000" stroke-width="2.3" />
<text x="825.3" y="1286.6" font-size="23.5" text-anchor="end" fill="#000" >0</text>
<line x1="833.8" y1="1215.95" x2="852" y2="1215.95" stroke="#000" stroke-width="2.3" />
<text x="825.3" y="1223.35" font-size="23.5" text-anchor="end" fill="#000" >5</text>
<line x1="833.8" y1="1152.7" x2="852" y2="1152.7" stroke="#000" stroke-width="2.3" />
<text x="825.3" y="1160.1" font-size="23.5" text-anchor="end" fill="#000" >10</text>
<line x1="833.8" y1="1089.45" x2="852" y2="1089.45" stroke="#000" stroke-width="2.3" />
<text x="825.3" y="1096.85" font-size="23.5" text-anchor="end" fill="#000" >15</text>
<line x1="833.8" y1="1026.2" x2="852" y2="1026.2" stroke="#000" stroke-width="2.3" />
<text x="825.3" y="1033.6" font-size="23.5" text-anchor="end" fill="#000" >20</text>
<line x1="833.8" y1="962.95" x2="852" y2="962.95" stroke="#000" stroke-width="2.3" />
<text x="825.3" y="970.35" font-size="23.5" text-anchor="end" fill="#000" >25</text>
<line x1="849.9" y1="1359.1" x2="1433.8" y2="1359.1" stroke="#000" stroke-width="2.3" />
<line x1="859.6" y1="1358" x2="859.6" y2="1376.4" stroke="#000" stroke-width="2.3" />
<text x="859.6" y="1403.8" font-size="22.5" text-anchor="middle" fill="#000" >0</text>
<line x1="1146.16" y1="1358" x2="1146.16" y2="1376.4" stroke="#000" stroke-width="2.3" />
<text x="1146.16" y="1403.8" font-size="22.5" text-anchor="middle" fill="#000" >6</text>
<line x1="1432.72" y1="1358" x2="1432.72" y2="1376.4" stroke="#000" stroke-width="2.3" />
<text x="1432.72" y="1403.8" font-size="22.5" text-anchor="middle" fill="#000" >12</text>
<line x1="1002.88" y1="1358" x2="1002.88" y2="1368.1" stroke="#000" stroke-width="2.3" />
<line x1="1289.44" y1="1358" x2="1289.44" y2="1368.1" stroke="#000" stroke-width="2.3" />
<text x="1146.7" y="1441.1" font-size="32" text-anchor="middle" fill="#000" >Month</text>
<text transform="translate(782.3,1157.3) rotate(-90)" x="0" y="0" font-size="31.5" text-anchor="middle" fill="#000">&#916;GMFM</text>
<line x1="851" y1="1279.2" x2="1432.7" y2="1279.2" stroke="#000" stroke-width="2.3" />
<line x1="860" y1="1190.9" x2="1434" y2="1190.9" stroke="#000" stroke-width="2.2" stroke-dasharray="5.2,5.21"/>
<polyline points="859.6,1279.2 1002.88,1269.59 1146.16,1249.35 1432.72,1231.13" fill="none" stroke="#ff0000" stroke-width="2.6" stroke-linejoin="round" />
<circle cx="859.6" cy="1279.2" r="4.9" fill="#ff0000"/>
<circle cx="1002.88" cy="1269.59" r="4.9" fill="#ff0000"/>
<circle cx="1146.16" cy="1249.35" r="4.9" fill="#ff0000"/>
<circle cx="1432.72" cy="1231.13" r="4.9" fill="#ff0000"/>
<polyline points="859.6,1279.2 1002.88,1217.22 1146.16,1233.28 1432.72,1174.2" fill="none" stroke="#ff0000" stroke-width="2.6" stroke-linejoin="round" />
<rect x="854.85" y="1274.45" width="9.5" height="9.5" fill="#ff0000" />
<rect x="998.13" y="1212.47" width="9.5" height="9.5" fill="#ff0000" />
<rect x="1141.41" y="1228.53" width="9.5" height="9.5" fill="#ff0000" />
<rect x="1427.97" y="1169.45" width="9.5" height="9.5" fill="#ff0000" />
<polyline points="859.6,1279.2 1002.88,1239.99 1146.16,1214.94 1432.72,1156.5" fill="none" stroke="#0030cc" stroke-width="2.6" stroke-linejoin="round" />
<polygon points="859.6,1271.2 867.6,1279.2 859.6,1287.2 851.6,1279.2" fill="#0030cc" />
<polygon points="1002.88,1231.99 1010.88,1239.99 1002.88,1247.99 994.88,1239.99" fill="#0030cc" />
<polygon points="1146.16,1206.94 1154.16,1214.94 1146.16,1222.94 1138.16,1214.94" fill="#0030cc" />
<polygon points="1432.72,1148.5 1440.72,1156.5 1432.72,1164.5 1424.72,1156.5" fill="#0030cc" />
<polyline points="859.6,1279.2 1002.88,1231.13 1146.16,1172.94" fill="none" stroke="#0030cc" stroke-width="2.6" stroke-linejoin="round" />
<polygon points="859.6,1286.53 866.4,1275.53 852.8,1275.53" fill="#0030cc" />
<polygon points="1002.88,1238.46 1009.68,1227.46 996.08,1227.46" fill="#0030cc" />
<polygon points="1146.16,1180.27 1152.96,1169.27 1139.36,1169.27" fill="#0030cc" />
<polyline points="859.6,1279.2 1002.88,1210.26 1146.16,1162.82 1432.72,1039.36" fill="none" stroke="#ff0000" stroke-width="2.6" stroke-linejoin="round" />
<polygon points="859.6,1271.87 866.1,1282.87 853.1,1282.87" fill="#ff0000" />
<polygon points="1002.88,1202.92 1009.38,1213.92 996.38,1213.92" fill="#ff0000" />
<polygon points="1146.16,1155.49 1152.66,1166.49 1139.66,1166.49" fill="#ff0000" />
<polygon points="1432.72,1032.02 1439.22,1043.02 1426.22,1043.02" fill="#ff0000" />
<polyline points="859.6,1279.2 1002.88,1208.99 1146.16,1145.74" fill="none" stroke="#0000ff" stroke-width="2.6" stroke-linejoin="round" />
<polygon points="859.6,1273.2 865.31,1277.35 863.13,1284.05 856.07,1284.05 853.89,1277.35" fill="#0000ff" />
<polygon points="1002.88,1202.99 1008.59,1207.14 1006.41,1213.85 999.35,1213.85 997.17,1207.14" fill="#0000ff" />
<polygon points="1146.16,1139.74 1151.87,1143.89 1149.69,1150.6 1142.63,1150.6 1140.45,1143.89" fill="#0000ff" />
<polyline points="859.6,1279.2 1002.88,1199.51 1146.16,1105.01 1432.72,1050.24" fill="none" stroke="#0030cc" stroke-width="2.6" stroke-linejoin="round" />
<polygon points="859.6,1274.7 867.6,1279.2 859.6,1283.7 851.6,1279.2" fill="#0030cc" />
<polygon points="1002.88,1195.01 1010.88,1199.51 1002.88,1204.01 994.88,1199.51" fill="#0030cc" />
<polygon points="1146.16,1100.51 1154.16,1105.01 1146.16,1109.51 1138.16,1105.01" fill="#0030cc" />
<polygon points="1432.72,1045.74 1440.72,1050.24 1432.72,1054.74 1424.72,1050.24" fill="#0030cc" />
<line x1="731.4" y1="936.5" x2="731.4" y2="1451.3" stroke="#000" stroke-width="2.3" />
<line x1="730.2" y1="1450.2" x2="1494" y2="1450.2" stroke="#000" stroke-width="2.3" />
<line x1="2" y1="936.8" x2="1494" y2="936.8" stroke="#000" stroke-width="2.4" />
<rect x="2.1" y="1.2" width="1491.9" height="1870.8" fill="none" stroke="#000" stroke-width="2.4"/>
</svg></body></html>
